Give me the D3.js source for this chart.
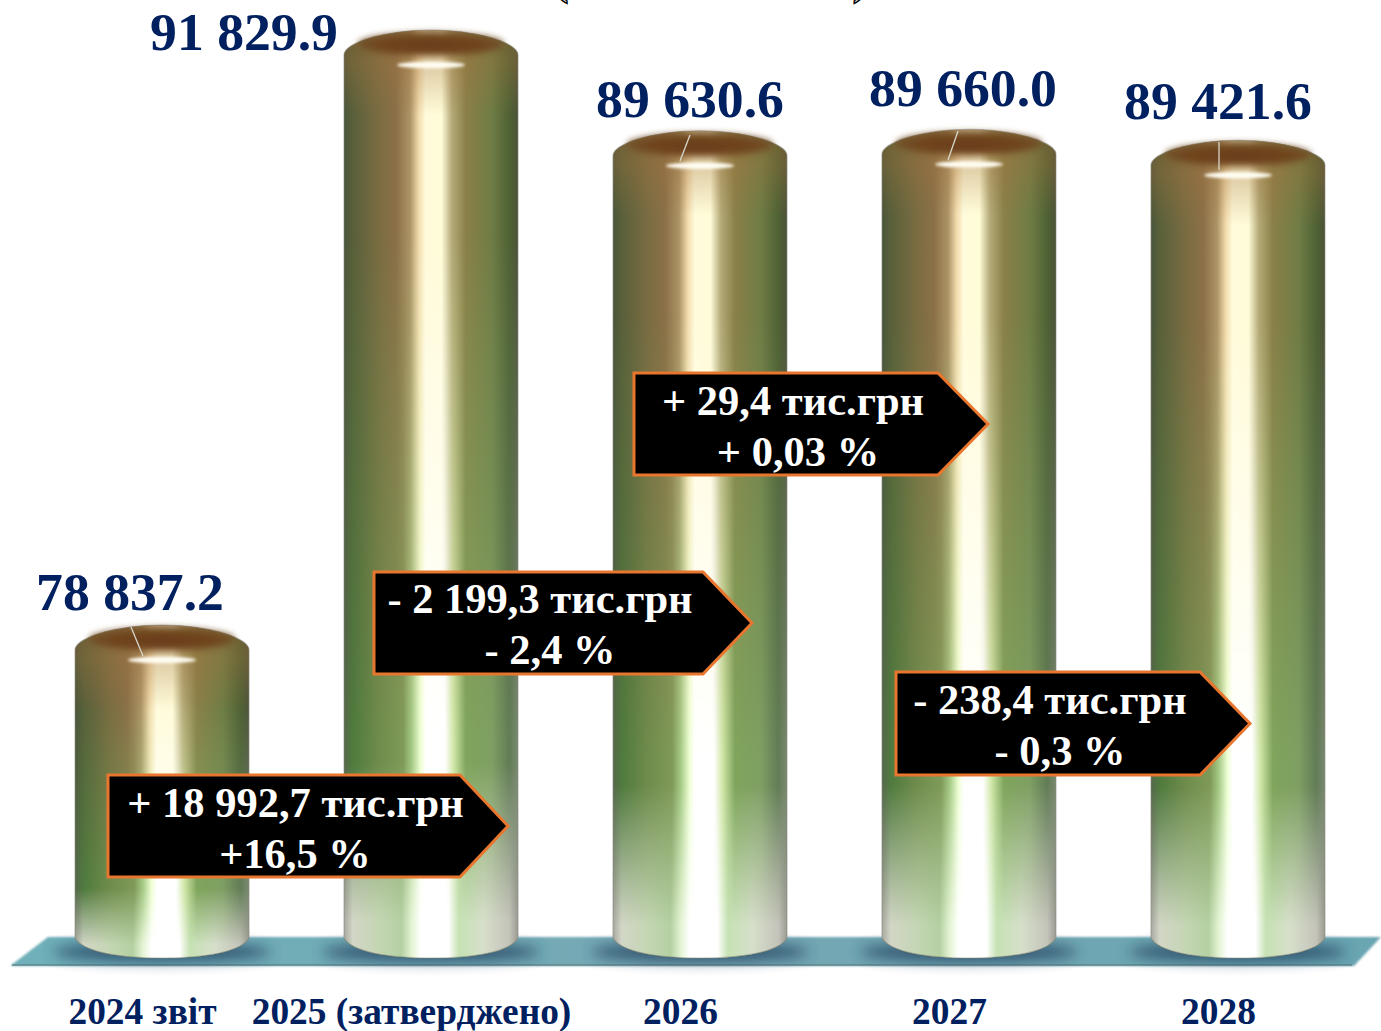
<!DOCTYPE html>
<html><head><meta charset="utf-8">
<script src="https://d3js.org/d3.v7.min.js"></script>
<style>html,body{margin:0;padding:0;background:#fff;overflow:hidden}svg{display:block}</style>
</head><body><svg id="c" width="1381" height="1031"></svg>
<script>
// ---- data ----
const categories = ["2024 звіт", "2025 (затверджено)", "2026", "2027", "2028"];
const values = [78837.2, 91829.9, 89630.6, 89660.0, 89421.6];
const valueLabels = ["78 837.2", "91 829.9", "89 630.6", "89 660.0", "89 421.6"];
const changeAmounts = ["+ 18 992,7 тис.грн", "- 2 199,3 тис.грн", "+ 29,4 тис.грн", "- 238,4 тис.грн"];
const changePercents = ["+16,5 %", "- 2,4 %", "+ 0,03 %", "- 0,3 %"];

// ---- layout ----
const W = 1381, H = 1031, NAVY = "#002060", SERIF = "'Liberation Serif','Times New Roman',serif";
const baseY = 942;
const labelPos = [[130, 610], [244, 50], [690, 117], [963, 106], [1218, 119]];
const leaders = [[131,627,143,656], null, [690,135,680,161], [958,131,948,160], [1219,142,1219,170]];
const boxes = [
  {x0:108, x1:460, tip:508, y0:775, y1:877, tx:295.5, tx2:295, b1:817, b2:868},
  {x0:374, x1:703, tip:752, y0:572, y1:674, tx:540, tx2:550, b1:613, b2:664},
  {x0:634, x1:938, tip:988, y0:373, y1:475, tx:793, tx2:798, b1:415, b2:466},
  {x0:896, x1:1200, tip:1250, y0:672, y1:775, tx:1050, tx2:1060, b1:714, b2:765}
];

const svg = d3.select("#c");
const x = d3.scaleBand().domain(categories).range([75, 1325]).paddingInner(0.353).paddingOuter(0);
const y = d3.scaleLinear().domain([72245, 91829.9]).range([baseY, 45]);
const defs = svg.append("defs");

function hGrad(id, stops){
  const g = defs.append("linearGradient").attr("id", id).attr("x1",0).attr("x2",1).attr("y1",0).attr("y2",0);
  stops.forEach(s => g.append("stop").attr("offset", s[0]).attr("stop-color", s[1]));
}
function vGrad(id, stops){
  const g = defs.append("linearGradient").attr("id", id).attr("x1",0).attr("x2",0).attr("y1",0).attr("y2",1);
  stops.forEach(s => g.append("stop").attr("offset", s[0]).attr("stop-color", s[1]).attr("stop-opacity", s[2] === undefined ? 1 : s[2]));
}
function mask(id, gradId){
  defs.append("mask").attr("id", id).attr("maskContentUnits","objectBoundingBox")
    .attr("x",0).attr("y",0).attr("width",1).attr("height",1)
    .append("rect").attr("width",1).attr("height",1).attr("fill",`url(#${gradId})`);
}
function blur(id, s){
  defs.append("filter").attr("id", id).attr("x","-30%").attr("y","-100%").attr("width","160%").attr("height","300%")
    .append("feGaussianBlur").attr("stdDeviation", s);
}
hGrad("gTop", [[0,"#49553a"],[.05,"#59603a"],[.2,"#7a6c42"],[.3,"#8b7048"],[.38,"#ad9466"],[.43,"#f3dcae"],[.47,"#fffcdc"],[.56,"#fffcd8"],[.62,"#b4aa78"],[.7,"#8a8048"],[.85,"#6f7c45"],[.95,"#4f6234"],[1,"#4c5239"]]);
hGrad("gMid", [[0,"#56684a"],[.05,"#4f7a3e"],[.2,"#6f8c4c"],[.34,"#7f9a58"],[.39,"#a6ca86"],[.44,"#eeffd4"],[.47,"#ffffff"],[.58,"#ffffff"],[.63,"#cfe6a6"],[.7,"#7fa55c"],[.85,"#7e9f63"],[.95,"#627c56"],[1,"#7a8a70"]]);
hGrad("gBot", [[0,"#a8a8a0"],[.05,"#d2d6c6"],[.2,"#c4d6b4"],[.33,"#b4d0a2"],[.39,"#e4f4d4"],[.44,"#ffffff"],[.6,"#ffffff"],[.66,"#c6e2b4"],[.8,"#d6dfca"],[.95,"#c4c4ba"],[1,"#9a9a92"]]);
vGrad("vMid", [[0,"#000"],[.22,"#000"],[.76,"#fff"],[1,"#fff"]]);
vGrad("vBot", [[0,"#000"],[.79,"#000"],[.96,"#fff"],[1,"#fff"]]);
mask("mMid","vMid"); mask("mBot","vBot");
vGrad("vTint", [[0,"#7d5a30",.55],[.4,"#a0703c",.35],[1,"#a0703c",0]]);
defs.append("radialGradient").attr("id","gCap").attr("cx",.5).attr("cy",.55).attr("r",.55)
  .selectAll("stop").data([[0,"#6a3d1b"],[.65,"#70451f"],[1,"#74552c"]]).join("stop")
  .attr("offset",d=>d[0]).attr("stop-color",d=>d[1]);
hGrad("gFloor", [[0,"#6fb0ba"],[.5,"#75a8b4"],[1,"#6aa6b2"]]);
blur("b3",3); blur("b6",7); blur("b1",1.5); blur("b14",.9);

// ---- floor ----
svg.append("path").attr("d", d3.line()([[48,937],[1381,937],[1354,966],[10,966]])+"Z").attr("fill","url(#gFloor)").attr("filter","url(#b14)");
svg.append("line").attr("x1",12).attr("x2",1352).attr("y1",965).attr("y2",965).attr("stroke","#4d6f74").attr("stroke-width",1.5).attr("opacity",.7);
const g = svg.selectAll("g.bar").data(categories.map((c,i)=>({c,v:values[i],i}))).join("g").attr("class","bar");
const cx = d => x(d.c) + x.bandwidth()/2;
g.append("ellipse").attr("cx",cx).attr("cy",952).attr("rx",x.bandwidth()/2+22).attr("ry",9).attr("fill","#24405f").attr("opacity",.85).attr("filter","url(#b6)");

// ---- cylinders ----
function body(d){
  const l = x(d.c), w = x.bandwidth(), r = l + w, c = l + w/2, t = y(d.v);
  return `M${l},${t+10} C${l},${t-2} ${l+40},${t-15} ${c},${t-15} C${r-40},${t-15} ${r},${t-2} ${r},${t+10}`
       + `L${r},${baseY-4} C${r-8},${baseY+10} ${r-45},${baseY+16} ${c},${baseY+16} C${l+45},${baseY+16} ${l+8},${baseY+10} ${l},${baseY-4}Z`;
}
function tintTop(d){
  const l = x(d.c), w = x.bandwidth(), r = l + w, c = l + w/2, t = y(d.v);
  return `M${l},${t+10} C${l},${t-2} ${l+40},${t-15} ${c},${t-15} C${r-40},${t-15} ${r},${t-2} ${r},${t+10}L${r},${t+70}L${l},${t+70}Z`;
}
g.append("path").attr("d",body).attr("fill","url(#gTop)");
g.append("path").attr("d",body).attr("fill","url(#gMid)").attr("mask","url(#mMid)");
g.append("path").attr("d",body).attr("fill","url(#gBot)").attr("mask","url(#mBot)");
g.append("path").attr("d",tintTop).attr("fill","url(#vTint)");
g.append("path").attr("d",body).attr("fill","none").attr("stroke","#8a8a80").attr("stroke-width",1.2).attr("opacity",.5);
g.append("ellipse").attr("cx",cx).attr("cy",d=>y(d.v)-1).attr("rx",x.bandwidth()/2-14).attr("ry",11.5).attr("fill","url(#gCap)").attr("filter","url(#b3)");
g.append("ellipse").attr("cx",cx).attr("cy",d=>y(d.v)+20).attr("rx",34).attr("ry",3.2).attr("fill","#fffdf2").attr("filter","url(#b1)");

// ---- leaders ----
g.filter(d=>leaders[d.i]).append("line")
  .attr("x1",d=>leaders[d.i][0]).attr("y1",d=>leaders[d.i][1]).attr("x2",d=>leaders[d.i][2]).attr("y2",d=>leaders[d.i][3])
  .attr("stroke","#d6d6cc").attr("stroke-width",1.3);

// ---- value labels ----
svg.selectAll("text.val").data(valueLabels).join("text").attr("class","val")
  .attr("x",(d,i)=>labelPos[i][0]).attr("y",(d,i)=>labelPos[i][1]).attr("text-anchor","middle")
  .attr("font-family",SERIF).attr("font-weight","bold").attr("font-size",53.7).attr("fill",NAVY).text(d=>d);

// ---- category axis ----
const axis = svg.append("g").attr("transform",`translate(-19.5,1024)`).call(d3.axisBottom(x).tickSize(0).tickPadding(0));
axis.select(".domain").remove();
axis.selectAll("text").attr("dy",0).attr("y",0).attr("font-family",SERIF).attr("font-weight","bold").attr("font-size",37.4).attr("fill",NAVY);

// ---- change callouts ----
const call = svg.selectAll("g.call").data(boxes).join("g").attr("class","call");
call.append("path").attr("d",b=>d3.line()([[b.x0,b.y0],[b.x1,b.y0],[b.tip,(b.y0+b.y1)/2],[b.x1,b.y1],[b.x0,b.y1]])+"Z")
  .attr("fill","#000").attr("stroke","#e8762e").attr("stroke-width",3).attr("stroke-linejoin","miter");
const tcommon = s => s.attr("text-anchor","middle").attr("font-family",SERIF).attr("font-weight","bold").attr("font-size",42.5).attr("fill","#fff");
call.append("text").attr("x",b=>b.tx).attr("y",b=>b.b1).call(tcommon).text((b,i)=>changeAmounts[i]);
call.append("text").attr("x",b=>b.tx2).attr("y",b=>b.b2).call(tcommon).text((b,i)=>changePercents[i]);

// ---- clipped title brackets at the top edge ----
svg.selectAll("text.par").data([["(",561],[")",860]]).join("text").attr("class","par")
  .attr("x",d=>d[1]).attr("y",-6).attr("text-anchor","middle").attr("font-family",SERIF).attr("font-weight","bold")
  .attr("font-size",44).attr("fill","#fff").attr("stroke","#000").attr("stroke-width",1.4).text(d=>d[0]);
</script></body></html>
